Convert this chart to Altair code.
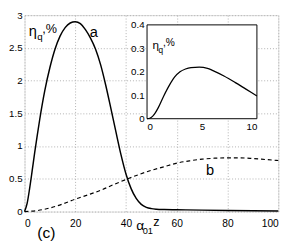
import altair as alt
import pandas as pd

# ---- data ----
a_x = [0, 1, 2, 3, 4, 5, 6, 8, 10, 12, 14, 16, 18, 20, 22, 24, 26, 28, 30, 32, 34, 36,
       38, 40, 42, 44, 46, 48, 50, 52, 55, 60, 70, 80, 90, 100]
a_y = [0, 0.12, 0.35, 0.62, 0.9, 1.16, 1.41, 1.85, 2.2, 2.48, 2.68, 2.81, 2.88, 2.9, 2.87,
       2.78, 2.65, 2.48, 2.24, 1.93, 1.58, 1.22, 0.87, 0.57, 0.35, 0.2, 0.11, 0.065, 0.045,
       0.036, 0.031, 0.028, 0.022, 0.017, 0.013, 0.01]

b_x = [0, 5, 10, 15, 20, 25, 30, 35, 40, 45, 50, 55, 60, 65, 70, 75, 80, 85, 90, 95, 100]
b_y = [0, 0.015, 0.055, 0.115, 0.19, 0.255, 0.325, 0.41, 0.49, 0.565, 0.63, 0.685, 0.74,
       0.775, 0.8, 0.815, 0.82, 0.82, 0.81, 0.795, 0.78]

i_x = [0, 0.25, 0.5, 0.75, 1, 1.5, 2, 2.5, 3, 3.5, 4, 4.75, 5.5, 6, 7, 8, 9, 10]
i_y = [0, 0.002, 0.01, 0.025, 0.045, 0.095, 0.14, 0.177, 0.2, 0.212, 0.218, 0.22, 0.215,
       0.205, 0.182, 0.155, 0.126, 0.097]

main_x_ticks = [0, 20, 40, 60, 80, 100]
main_y_ticks = [0, 0.5, 1, 1.5, 2, 2.5, 3]
inset_x_ticks = [0, 5, 10]
inset_y_ticks = [0, 0.1, 0.2, 0.3, 0.4]

FONT = "Liberation Sans"
W, H = 261, 202

df_a = pd.DataFrame({"x": a_x, "y": a_y})
df_b = pd.DataFrame({"x": b_x, "y": b_y})
df_i = pd.DataFrame({"x": i_x, "y": i_y})

xs = alt.Scale(domain=[0, 100], nice=False, zero=False)
ys = alt.Scale(domain=[0, 3], nice=False, zero=False)
xaxis = alt.Axis(values=main_x_ticks, title=None, grid=True, gridDash=[1, 2],
                 gridColor="#b0b0b0", ticks=False, tickSize=0, domain=False,
                 labelFontSize=10.5, labelFont=FONT, labelColor="black", labelPadding=7)
yaxis = alt.Axis(values=main_y_ticks, title=None, grid=True, gridDash=[1, 2],
                 gridColor="#b0b0b0", ticks=False, tickSize=0, domain=False,
                 format="~g", labelFontSize=10, labelFont=FONT, labelColor="black",
                 labelPadding=2.5)

X = alt.X("x:Q", scale=xs, axis=xaxis)
Y = alt.Y("y:Q", scale=ys, axis=yaxis)

line_a = alt.Chart(df_a).mark_line(color="black", strokeWidth=1.5, interpolate="monotone").encode(x=X, y=Y)
line_b = alt.Chart(df_b).mark_line(color="black", strokeWidth=1.2, strokeDash=[4, 3],
                                   interpolate="monotone").encode(x=X, y=Y)


def txt(x, y, s, size, align="center"):
    d = pd.DataFrame({"x": [x], "y": [y], "t": [s]})
    return alt.Chart(d).mark_text(font=FONT, fontSize=size, color="black", align=align,
                                  baseline="middle").encode(x=X, y=Y, text="t:N")


main = alt.layer(
    line_a, line_b,
    txt(1.7, 2.76, "η", 15, "left"),
    txt(5.0, 2.665, "q", 10, "left"),
    txt(7.0, 2.79, ",%", 13, "left"),
    txt(27.3, 2.74, "a", 15),
    txt(73.1, 0.63, "b", 15),
    txt(8.6, -0.335, "(c)", 16),
    txt(45.6, -0.225, "α", 14),
    txt(48.6, -0.30, "01", 9.5),
    txt(52.0, -0.16, "z", 13),
)

# ---- inset ----
ix_range = [126.0, 239.0]
iy_range = [106.5, 10.0]
ixs = alt.Scale(domain=[0, 10], range=ix_range, nice=False, zero=False)
iys = alt.Scale(domain=[0, 0.4], range=iy_range, nice=False, zero=False)
ixaxis = alt.Axis(values=inset_x_ticks, orient="bottom", offset=-(H - iy_range[0]),
                  title=None, grid=False, ticks=False, tickSize=0, domain=False,
                  labelFontSize=10, labelFont=FONT, labelColor="black", labelPadding=3)
iyaxis = alt.Axis(values=inset_y_ticks, orient="left", offset=-ix_range[0],
                  title=None, grid=False, ticks=False, tickSize=0, domain=False,
                  format="~g", labelFontSize=10, labelFont=FONT, labelColor="black",
                  labelPadding=3)
IX = alt.X("x:Q", scale=ixs, axis=ixaxis)
IY = alt.Y("y:Q", scale=iys, axis=iyaxis)

box_df = pd.DataFrame({"x": [0], "x2": [10], "y": [0], "y2": [0.4]})
box = alt.Chart(box_df).mark_rect(fill="white", stroke="black", strokeWidth=1).encode(
    x=IX, x2="x2:Q", y=IY, y2="y2:Q")
line_i = alt.Chart(df_i).mark_line(color="black", strokeWidth=1.3, interpolate="monotone").encode(x=IX, y=IY)


def itxt(x, y, s, size):
    d = pd.DataFrame({"x": [x], "y": [y], "t": [s]})
    return alt.Chart(d).mark_text(font=FONT, fontSize=size, color="black", align="left",
                                  baseline="middle").encode(x=IX, y=IY, text="t:N")


inset = alt.layer(
    box, line_i,
    itxt(0.5, 0.312, "η", 12),
    itxt(1.05, 0.292, "q", 8.5),
    itxt(1.45, 0.322, ",%", 10.5),
)

chart = alt.layer(main, inset).resolve_scale(x="independent", y="independent").properties(
    width=W, height=H,
    autosize=alt.AutoSizeParams(type="none"),
    padding={"left": 17, "top": 4, "right": 11, "bottom": 30},
).configure_view(stroke="black", strokeWidth=1).configure(background="white")

chart.save("out.html", embed_options={"renderer": "svg", "actions": False})
